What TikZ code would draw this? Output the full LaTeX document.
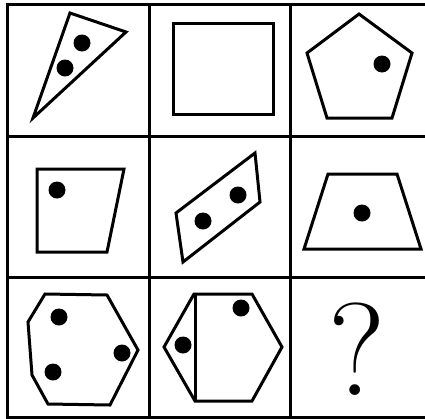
\documentclass[tikz,border=0pt]{standalone}
\usepackage{tikz}
\begin{document}
\begin{tikzpicture}[
  x=1pt, y=-1pt,
  gridline/.style={line width=3pt, color=black},
  figline/.style={line width=3pt, color=black, line join=miter},
  dot/.style={fill=black},
  qmark/.style={font=\fontsize{132}{132}\selectfont, inner sep=0pt, anchor=base}
]
\useasboundingbox (0,0) rectangle (425,418);

% grid
\draw[gridline] (425,4) -- (7,4) -- (7,417) -- (425,417);
\draw[gridline] (7,136) -- (425,136);
\draw[gridline] (7,277) -- (425,277);
\draw[gridline] (149,4) -- (149,417);
\draw[gridline] (290,4) -- (290,417);

% row 1
\draw[figline] (70,13) -- (126,32) -- (33,118) -- cycle;
\fill[dot] (82,43) circle (8.5);
\fill[dot] (65,68) circle (8.5);

\draw[figline] (173,23) rectangle (273,114);

\draw[figline] (359,14) -- (412,53) -- (392,118) -- (327,118) -- (307,53) -- cycle;
\fill[dot] (382,64) circle (8.5);

% row 2
\draw[figline] (37,169) -- (124,169) -- (107,252) -- (37,252) -- cycle;
\fill[dot] (57,190) circle (8.5);

\draw[figline] (176,213) -- (255,153) -- (260,202) -- (183,262) -- cycle;
\fill[dot] (203,221) circle (8.5);
\fill[dot] (238,195) circle (8.5);

\draw[figline] (328,174) -- (397,174) -- (421,249) -- (304,249) -- cycle;
\fill[dot] (362,213) circle (8.5);

% row 3
\draw[figline] (45,294) -- (107,295) -- (138,350) -- (110,405) -- (48,404)
  -- (32,375) -- (28,322) -- cycle;
\fill[dot] (59,317) circle (8.5);
\fill[dot] (53,372) circle (8.5);
\fill[dot] (122,353) circle (8.5);

\draw[figline] (194,294) -- (252,294) -- (282,347) -- (252,401) -- (195,401)
  -- (164,347) -- cycle;
\draw[figline] (195,294) -- (195,401);
\fill[dot] (183,345) circle (8.5);
\fill[dot] (241,308) circle (8.5);

\node[qmark] (ask) at (357,395) {?};
\end{tikzpicture}
\end{document}
